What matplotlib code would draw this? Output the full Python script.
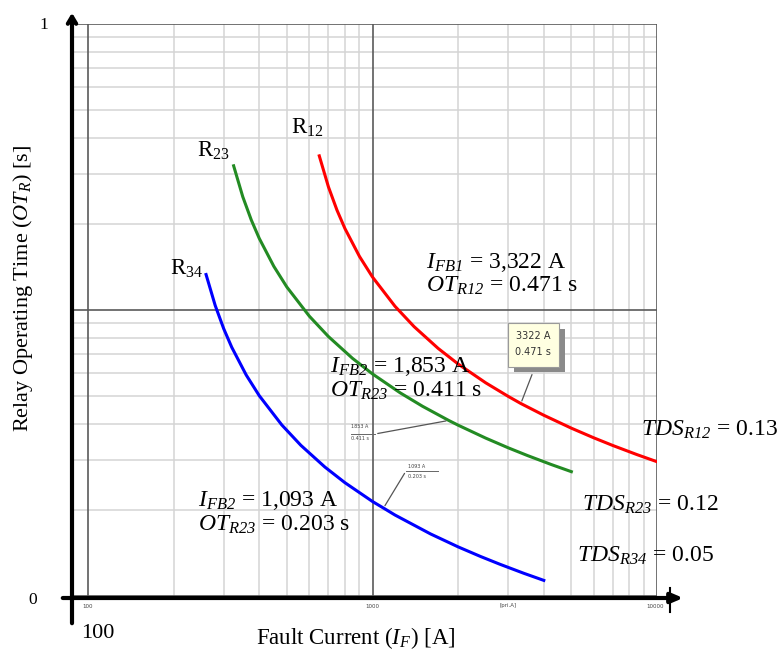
import matplotlib
matplotlib.use("Agg")
import matplotlib.pyplot as plt
from matplotlib.patches import Rectangle

plt.rcParams['font.family'] = ['Liberation Serif', 'DejaVu Serif']
plt.rcParams['mathtext.fontset'] = 'custom'
plt.rcParams['mathtext.rm'] = 'Liberation Serif'
plt.rcParams['mathtext.it'] = 'Liberation Serif:italic'
# \mathsf is used as "italic incl. digits"
plt.rcParams['mathtext.sf'] = 'Liberation Serif:italic'

# curve data (current [A], operating time [s])
i_r12 = [650, 700, 750, 800, 900, 1000, 1200, 1400, 1700, 2000, 2500, 3000, 3322, 4000, 5000, 6000, 7000, 8500, 10000]
t_r12 = [3.459, 2.695, 2.235, 1.927, 1.539, 1.304, 1.030, 0.8747, 0.7345, 0.6474, 0.5564, 0.4988, 0.471, 0.4286, 0.3862, 0.3572, 0.3358, 0.3122, 0.2948]
i_r23 = [325, 350, 375, 400, 450, 500, 600, 700, 850, 1000, 1250, 1500, 1853, 2000, 2500, 3000, 3500, 4250, 5000]
t_r23 = [3.193, 2.488, 2.063, 1.779, 1.421, 1.203, 0.9511, 0.8075, 0.6780, 0.5976, 0.5136, 0.4605, 0.411, 0.3956, 0.3565, 0.3297, 0.3100, 0.2882, 0.2721]
i_r34 = [260, 280, 300, 320, 360, 400, 480, 560, 680, 800, 1000, 1093, 1200, 1600, 2000, 2400, 2800, 3400, 4000]
t_r34 = [1.3305, 1.0367, 0.8597, 0.7412, 0.5920, 0.5015, 0.3963, 0.3364, 0.2825, 0.2490, 0.2140, 0.203, 0.1919, 0.1648, 0.1485, 0.1374, 0.1292, 0.1201, 0.1134]

minor_x = [200, 300, 400, 500, 600, 700, 800, 900, 2000, 3000, 4000, 5000, 6000, 7000, 8000, 9000]
major_x = [100, 1000, 10000]
minor_y = [0.2, 0.3, 0.4, 0.5, 0.6, 0.7, 0.8, 0.9, 2, 3, 4, 5, 6, 7, 8, 9]
major_y = [0.1, 1, 10]

W, H = 779, 661


def px(x, y):
    return (x / W, 1 - y / H)


fig = plt.figure(figsize=(W / 100, H / 100), dpi=100)
ax = fig.add_axes([72 / W, 1 - 596 / H, 585 / W, 572 / H])
ax.set_xscale('log')
ax.set_yscale('log')
ax.set_xlim(10 ** (2 - 16 / 284.5), 10000)
ax.set_ylim(0.1, 10)
for s in ax.spines.values():
    s.set_visible(False)
ax.tick_params(which='both', length=0, labelbottom=False, labelleft=False)

for v in minor_x:
    ax.axvline(v, color='#d4d4d4', lw=1.1, zorder=1)
for v in minor_y:
    ax.axhline(v, color='#d4d4d4', lw=1.1, zorder=1)
for v in major_x:
    ax.axvline(v, color='#5a5a5a', lw=1.2, zorder=2)
for v in major_y:
    ax.axhline(v, color='#5a5a5a', lw=1.2, zorder=2)

ax.plot(i_r12, t_r12, color='#ff0000', lw=2.2, zorder=3)
ax.plot(i_r23, t_r23, color='#238b23', lw=2.2, zorder=3)
ax.plot(i_r34, t_r34, color='#0000ff', lw=2.2, zorder=3)

# black axes with arrows
ax.annotate('', xy=px(72, 10), xytext=px(72, 626), xycoords='figure fraction',
            textcoords='figure fraction', annotation_clip=False,
            arrowprops=dict(arrowstyle='->,head_length=0.5,head_width=0.3', lw=3, color='k'))
ax.annotate('', xy=px(686, 598), xytext=px(60, 598), xycoords='figure fraction',
            textcoords='figure fraction', annotation_clip=False,
            arrowprops=dict(arrowstyle='-|>,head_length=0.7,head_width=0.3', lw=3, color='k'))
fig.add_artist(plt.Line2D([670 / W, 670 / W], [1 - 588 / H, 1 - 612 / H], color='k', lw=1.5))

# tiny tick labels
for lab, x in [('100', 88), ('1000', 372), ('[pri.A]', 508), ('10000', 655)]:
    fig.text(*px(x, 606), lab, fontsize=4, family='DejaVu Sans', color='#444444', ha='center', va='center')

fig.text(*px(44, 25), '1', fontsize=12.5, ha='center', va='center')
fig.text(*px(33, 600), '0', fontsize=12.5, ha='center', va='center')
fig.text(*px(98, 634), '100', fontsize=16, ha='center', va='center')
fig.text(*px(356, 638), r'Fault Current ($\mathsf{I}_{\mathsf{F}}$) [A]', fontsize=16.5, ha='center', va='center')
fig.text(*px(23, 288), r'Relay Operating Time ($\mathsf{OT}_{\mathsf{R}}$) [s]', fontsize=16,
         ha='center', va='center', rotation=90)

# curve names
fig.text(*px(307, 128), r'R$_{12}$', fontsize=16.5, ha='center', va='center')
fig.text(*px(213, 151), r'R$_{23}$', fontsize=16.5, ha='center', va='center')
fig.text(*px(187, 269), r'R$_{34}$', fontsize=16.5, ha='center', va='center')

fs = 17
fig.text(*px(426, 262), r'$\mathsf{I}_{\mathsf{FB1}}$ = 3,322 A', fontsize=fs, va='center')
fig.text(*px(426, 286), r'$\mathsf{OT}_{\mathsf{R12}}$ = 0.471 s', fontsize=fs, va='center')
fig.text(*px(330, 366), r'$\mathsf{I}_{\mathsf{FB2}}$ = 1,853 A', fontsize=fs, va='center')
fig.text(*px(330, 391), r'$\mathsf{OT}_{\mathsf{R23}}$ = 0.411 s', fontsize=fs, va='center')
fig.text(*px(198, 500), r'$\mathsf{I}_{\mathsf{FB2}}$ = 1,093 A', fontsize=fs, va='center')
fig.text(*px(198, 525), r'$\mathsf{OT}_{\mathsf{R23}}$ = 0.203 s', fontsize=fs, va='center')
fig.text(*px(641, 430), r'$\mathsf{TDS}_{\mathsf{R12}}$ = 0.13', fontsize=fs, va='center')
fig.text(*px(582, 505), r'$\mathsf{TDS}_{\mathsf{R23}}$ = 0.12', fontsize=fs, va='center')
fig.text(*px(577, 556), r'$\mathsf{TDS}_{\mathsf{R34}}$ = 0.05', fontsize=fs, va='center')

# tooltip at the R12 point
fig.add_artist(Rectangle(px(514, 372), 51 / W, 43 / H, facecolor='#8a8a8a', edgecolor='none', zorder=5))
fig.add_artist(Rectangle(px(508, 367), 51 / W, 44 / H, facecolor='#ffffe1', edgecolor='#9a9a9a', lw=0.8, zorder=6))
fig.text(*px(533, 336), '3322 A', fontsize=7, family='DejaVu Sans', color='#333333', ha='center', va='center', zorder=7)
fig.text(*px(533, 352), '0.471 s', fontsize=7, family='DejaVu Sans', color='#333333', ha='center', va='center', zorder=7)
ax.annotate('', xy=(i_r12[12], t_r12[12]), xytext=px(533, 372), textcoords='figure fraction',
            arrowprops=dict(arrowstyle='-', color='#555555', lw=0.9))

# small leader labels
fig.text(*px(351, 427), '1853 A', fontsize=3.5, family='DejaVu Sans', color='#444444', va='center')
fig.text(*px(351, 438), '0.411 s', fontsize=3.5, family='DejaVu Sans', color='#444444', va='center')
fig.add_artist(plt.Line2D([351 / W, 375 / W], [1 - 434 / H, 1 - 434 / H], color='#666666', lw=0.7))
ax.annotate('', xy=(i_r23[12], t_r23[12]), xytext=px(375, 434), textcoords='figure fraction',
            arrowprops=dict(arrowstyle='-', color='#555555', lw=0.9))
fig.text(*px(408, 466), '1093 A', fontsize=3.5, family='DejaVu Sans', color='#444444', va='center')
fig.text(*px(408, 476), '0.203 s', fontsize=3.5, family='DejaVu Sans', color='#444444', va='center')
fig.add_artist(plt.Line2D([406 / W, 438 / W], [1 - 471 / H, 1 - 471 / H], color='#666666', lw=0.7))
ax.annotate('', xy=(i_r34[11], t_r34[11]), xytext=px(406, 471), textcoords='figure fraction',
            arrowprops=dict(arrowstyle='-', color='#555555', lw=0.9))

fig.savefig('out.png', dpi=100)
